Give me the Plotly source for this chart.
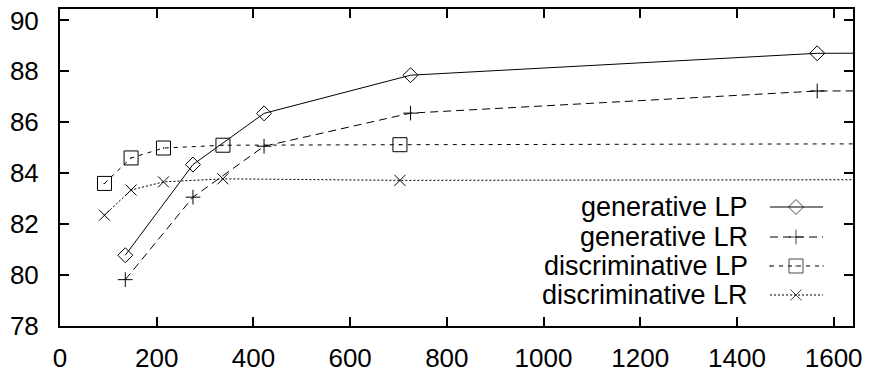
import plotly.graph_objects as go

# ---- data ----
gen_x = [135, 275, 422, 725, 1566, 3000]
gen_lp = [80.78, 84.34, 86.35, 87.85, 88.71, 88.76]
gen_lr = [79.82, 83.06, 85.06, 86.36, 87.23, 87.28]

disc_x = [92, 147, 214, 337, 703, 3000]
disc_lp = [83.60, 84.60, 84.99, 85.10, 85.12, 85.20]
disc_lr = [82.35, 83.34, 83.66, 83.78, 83.72, 83.78]

series_names = ["generative LP", "generative LR", "discriminative LP", "discriminative LR"]
x_ticks = [0, 200, 400, 600, 800, 1000, 1200, 1400, 1600]
y_ticks = [78, 80, 82, 84, 86, 88, 90]

# ---- styles ----
FONT = "Liberation Sans, Arial, sans-serif"
FS = 26
styles = [
    dict(dash="solid", symbol="diamond-open", size=11.5),
    dict(dash="8px,5px", symbol="cross-thin-open", size=10.5),
    dict(dash="4px,5px", symbol="square-open-dot", size=14),
    dict(dash="2px,2px", symbol="x-thin-open", size=11),
]
data = [(gen_x, gen_lp), (gen_x, gen_lr), (disc_x, disc_lp), (disc_x, disc_lr)]

fig = go.Figure()
for (xs, ys), st, nm in zip(data, styles, series_names):
    fig.add_trace(go.Scatter(
        x=xs, y=ys, mode="lines+markers", name=nm, showlegend=False,
        line=dict(color="black", width=1, dash=st["dash"]),
        marker=dict(symbol=st["symbol"], size=st["size"], color="black",
                    line=dict(color="black", width=1)),
    ))

# ---- hand-made legend (text left of sample, as in gnuplot) ----
W, H = 870, 372
ML, MR, MT, MB = 60, 17, 9, 46
pw, ph = W - ML - MR, H - MT - MB
def px(xp): return (xp - ML) / pw
def py(yp): return (H - MB - yp) / ph

rows_y = [207, 237, 266, 295]
for nm, st, ry in zip(series_names, styles, rows_y):
    fig.add_annotation(x=px(750), y=py(ry), xref="paper", yref="paper",
                       text=nm, showarrow=False, xanchor="right", yanchor="middle",
                       font=dict(family=FONT, size=FS + 1, color="black"))
    fig.add_trace(go.Scatter(
        x=[px(770), px(796), px(823)], y=[py(ry)] * 3, xaxis="x2", yaxis="y2",
        mode="lines+markers", showlegend=False, hoverinfo="skip",
        line=dict(color="black", width=1, dash=st["dash"]),
        marker=dict(symbol=st["symbol"], size=[0, st["size"], 0], color="black",
                    line=dict(color="black", width=1)),
    ))

axis_common = dict(showgrid=False, zeroline=False, showline=True, linecolor="black",
                   linewidth=2, mirror="allticks", ticks="inside", ticklen=9,
                   tickwidth=2, tickcolor="black", automargin=False,
                   tickfont=dict(family=FONT, size=FS, color="black"))

fig.update_layout(
    width=W, height=H, autosize=False,
    margin=dict(l=ML, r=MR, t=MT, b=MB, pad=0, autoexpand=False),
    paper_bgcolor="white", plot_bgcolor="white",
    xaxis=dict(range=[0, 1640], tickvals=x_ticks, ticklabelstandoff=8, **axis_common),
    yaxis=dict(range=[78, 90.45], tickvals=y_ticks, ticklabelstandoff=14, **axis_common),
    xaxis2=dict(range=[0, 1], overlaying="x", visible=False, fixedrange=True, automargin=False),
    yaxis2=dict(range=[0, 1], overlaying="y", visible=False, fixedrange=True, automargin=False),
)

fig.write_html("out.html", config={"displayModeBar": False, "staticPlot": True},
               post_script="document.body.style.margin='0';document.body.style.overflow='hidden';")
